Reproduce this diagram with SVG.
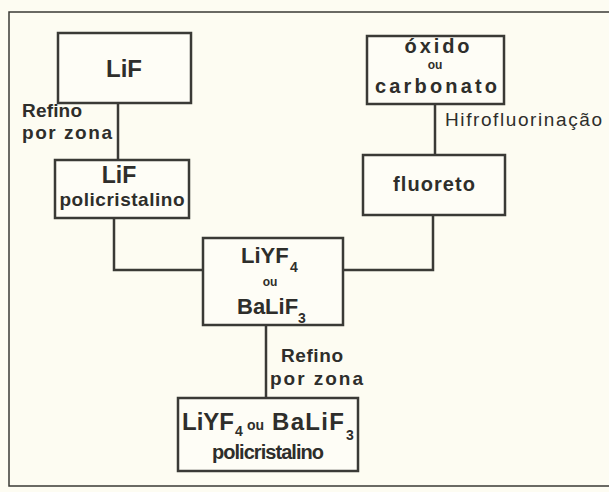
<svg xmlns="http://www.w3.org/2000/svg" width="609" height="492" viewBox="0 0 609 492">
<style>
.bg{fill:#fdfcf2}
.frame{fill:none;stroke:#3a3a36;stroke-width:1.5}
.box{fill:#fefdf6;stroke:#3a3a36;stroke-width:2.5}
.con{fill:none;stroke:#3a3a36;stroke-width:2.5}
text{font-family:"Liberation Sans",Arial,sans-serif;fill:#2e2e2b;font-weight:bold}
.m{text-anchor:middle}
.lab{font-size:19px}
.hf{font-size:19px;font-weight:normal}
</style>
<rect class="bg" x="0" y="0" width="609" height="492"/>
<g id="frame">
<polyline class="frame" points="609,12 9,12 9,486 609,486"/>
</g>
<g id="connectors">
<line class="con" x1="118" y1="103" x2="118" y2="160"/>
<polyline class="con" points="114,218 114,270 203,270"/>
<line class="con" x1="435" y1="104" x2="435" y2="155"/>
<polyline class="con" points="433,215 433,270 343,270"/>
<line class="con" x1="266" y1="325" x2="266" y2="398"/>
<text class="lab" x="22" y="117" textLength="60" lengthAdjust="spacing">Refino</text>
<text class="lab" x="22" y="139" textLength="90" lengthAdjust="spacing">por zona</text>
<text class="hf" x="445" y="126" textLength="157" lengthAdjust="spacing">Hifrofluorinação</text>
<text class="lab" x="281" y="362" textLength="62" lengthAdjust="spacing">Refino</text>
<text class="lab" x="270" y="385" textLength="93" lengthAdjust="spacing">por zona</text>
</g>
<g id="lif">
<rect class="box" x="58" y="33" width="133" height="70"/>
<text class="m" x="124" y="77" font-size="24">LiF</text>
</g>
<g id="lif-poli">
<rect class="box" x="55" y="160" width="134" height="58"/>
<text class="m" x="119" y="183" font-size="23">LiF</text>
<text class="m" x="122" y="206" font-size="19" textLength="125" lengthAdjust="spacing">policristalino</text>
</g>
<g id="oxido">
<rect class="box" x="367" y="36" width="137" height="68"/>
<text class="m" x="437" y="53" font-size="20" textLength="65" lengthAdjust="spacing">óxido</text>
<text class="m" x="435" y="69" font-size="12">ou</text>
<text class="m" x="436" y="93" font-size="20" textLength="122" lengthAdjust="spacing">carbonato</text>
</g>
<g id="fluoreto">
<rect class="box" x="363" y="155" width="142" height="60"/>
<text class="m" x="434" y="191" font-size="20" textLength="82" lengthAdjust="spacing">fluoreto</text>
</g>
<g id="center">
<rect class="box" x="203" y="238" width="140" height="87"/>
<text x="241" y="263" font-size="22">LiYF</text>
<text x="290" y="272" font-size="14">4</text>
<text class="m" x="270" y="286" font-size="12">ou</text>
<text x="237" y="314" font-size="22">BaLiF</text>
<text x="298" y="323" font-size="14">3</text>
</g>
<g id="bottom">
<rect class="box" x="178" y="398" width="180" height="73"/>
<text x="182" y="430" font-size="24">LiYF</text>
<text x="235" y="436" font-size="14">4</text>
<text x="247" y="430" font-size="14">ou</text>
<text x="272" y="430" font-size="24" textLength="72" lengthAdjust="spacing">BaLiF</text>
<text x="346" y="440" font-size="14">3</text>
<text class="m" x="268" y="459" font-size="20" textLength="112" lengthAdjust="spacing">policristalino</text>
</g>
</svg>
